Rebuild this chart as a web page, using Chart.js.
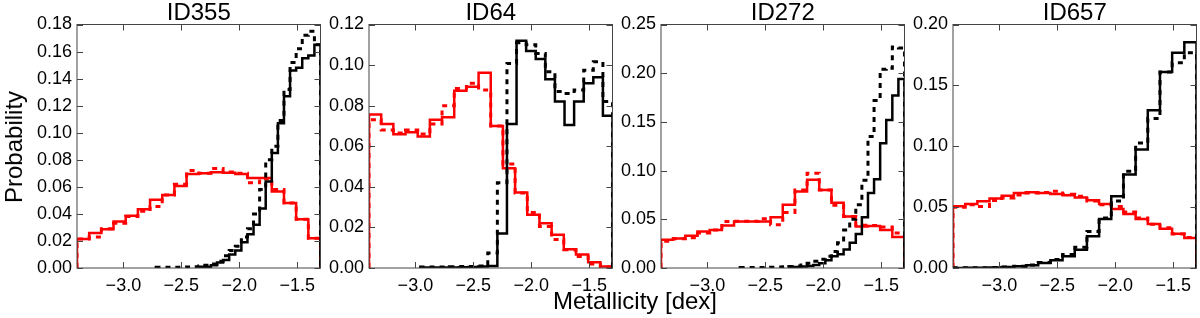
<!DOCTYPE html>
<html>
<head>
<meta charset="utf-8">
<script src="https://cdn.jsdelivr.net/npm/chart.js@4.4.1/dist/chart.umd.min.js"></script>
<style>
  body { margin: 0; background: #fff; }
  #wrap { position: relative; width: 1200px; height: 318px; overflow: hidden; font-family: "Liberation Sans", Arial, sans-serif; }
  canvas { position: absolute; top: 0; }
  .lab { position: absolute; font-size: 24px; line-height: 24px; color: #000; white-space: nowrap; }
</style>
</head>
<body>
<div id="wrap">
  <canvas id="c0" width="308" height="318" style="left:17px"></canvas>
  <canvas id="c1" width="308" height="318" style="left:309px"></canvas>
  <canvas id="c2" width="308" height="318" style="left:601px"></canvas>
  <canvas id="c3" width="308" height="318" style="left:893px"></canvas>
  <div class="lab" id="ylab" style="left:14px;top:147px;transform:translate(-50%,-50%) rotate(-90deg)">Probability</div>
  <div class="lab" id="xlab" style="left:635px;top:289px;transform:translateX(-50%)">Metallicity [dex]</div>
</div>
<script>
const titles = ['ID355', 'ID64', 'ID272', 'ID657'];
const xMin = -3.4, xMax = -1.3;
const xTicks = [-3.0, -2.5, -2.0, -1.5];
const yTicks = [
  [0, 0.02, 0.04, 0.06, 0.08, 0.10, 0.12, 0.14, 0.16, 0.18],
  [0, 0.02, 0.04, 0.06, 0.08, 0.10, 0.12],
  [0, 0.05, 0.10, 0.15, 0.20, 0.25],
  [0, 0.05, 0.10, 0.15, 0.20]
];

// red histograms: 20 bins over [xMin, xMax]
const redSolid = [
  [0.0214,0.0258,0.0287,0.0344,0.0386,0.0435,0.0504,0.054,0.0607,0.0695,0.0700,0.0707,0.0705,0.0695,0.0665,0.0665,0.0565,0.048,0.036,0.022],
  [0.0757,0.071,0.0659,0.0669,0.0648,0.073,0.0743,0.0874,0.0893,0.0962,0.070,0.0492,0.0372,0.0262,0.0221,0.0164,0.0093,0.0066,0.0028,0.0008],
  [0.029,0.0304,0.033,0.0375,0.039,0.0437,0.0478,0.0478,0.0478,0.052,0.0649,0.0785,0.0905,0.080,0.067,0.053,0.0427,0.043,0.039,0.0317],
  [0.0507,0.0526,0.0548,0.057,0.0594,0.0616,0.0622,0.0616,0.0608,0.0597,0.058,0.0556,0.0526,0.0485,0.0444,0.0403,0.0362,0.0323,0.0282,0.0247]
];
const redDotted = [
  [0.0214,0.023,0.029,0.033,0.038,0.042,0.0455,0.054,0.062,0.072,0.070,0.0735,0.071,0.070,0.063,0.066,0.058,0.048,0.036,0.022],
  [0.073,0.068,0.0665,0.068,0.066,0.071,0.080,0.0885,0.091,0.0877,0.070,0.0513,0.037,0.0274,0.0205,0.014,0.009,0.0057,0.002,0.0005],
  [0.0275,0.030,0.031,0.036,0.039,0.0478,0.048,0.048,0.0505,0.0444,0.057,0.080,0.0973,0.080,0.0645,0.053,0.044,0.0437,0.042,0.036],
  [0.050,0.052,0.0506,0.0555,0.0575,0.060,0.0615,0.062,0.063,0.0605,0.059,0.055,0.052,0.0506,0.046,0.041,0.036,0.033,0.028,0.025]
];

// black histograms: equal bins from their own lower edge up to xMax
const blackSolidLo = [-2.35, -2.955, -2.2975, -3.4];
const blackDottedLo = [-2.7175, -2.955, -2.7175, -3.4];
const blackSolid = [
  [0.001,0.001,0.002,0.004,0.006,0.010,0.013,0.019,0.025,0.032,0.044,0.064,0.085,0.107,0.127,0.146,0.148,0.155,0.157,0.165],
  [0.0002,0.0002,0.0003,0.0003,0.0004,0.0005,0.0007,0.001,0.017,0.071,0.112,0.107,0.103,0.093,0.082,0.0705,0.082,0.091,0.094,0.075],
  [0.0008,0.001,0.0015,0.002,0.003,0.005,0.008,0.012,0.014,0.019,0.026,0.035,0.052,0.077,0.091,0.128,0.152,0.177,0.194],
  [0.0001,0.0002,0.0003,0.0005,0.0008,0.0014,0.0022,0.0041,0.0063,0.0096,0.015,0.026,0.0403,0.0589,0.0767,0.0973,0.1296,0.161,0.1767,0.1855]
];
const blackDotted = [
  [0.0005,0.0005,0.0005,0.0006,0.0007,0.0008,0.001,0.0015,0.002,0.003,0.005,0.009,0.013,0.016,0.023,0.029,0.040,0.058,0.080,0.090,0.109,0.132,0.152,0.162,0.172,0.175,0.165],
  [0.0005,0.0005,0.0005,0.0006,0.0007,0.0008,0.001,0.0074,0.042,0.1008,0.111,0.110,0.1057,0.0967,0.087,0.086,0.0877,0.0975,0.1016,0.082],
  [0.0005,0.0005,0.0005,0.0006,0.0007,0.0008,0.001,0.0012,0.0015,0.002,0.003,0.005,0.007,0.009,0.012,0.017,0.026,0.039,0.05,0.065,0.09,0.135,0.172,0.204,0.205,0.227,0.226],
  [0.0002,0.0002,0.0003,0.0005,0.0008,0.0015,0.0025,0.0045,0.007,0.011,0.017,0.030,0.041,0.055,0.0795,0.1027,0.1227,0.161,0.1685,0.1767]
];

// matplotlib-like step outline: up at the first edge, down at the last
function stepPoints(lo, hi, values){
  const w = (hi - lo) / values.length;
  const pts = [{x: lo, y: 0}];
  values.forEach((v, i) => pts.push({x: lo + i * w, y: v}));
  pts.push({x: hi, y: 0});
  return pts;
}

function histSet(pts, color, dotted, order){
  return {
    data: pts,
    borderColor: color,
    borderWidth: dotted ? 3 : 2.5,
    borderDash: dotted ? [5, 5] : [],
    stepped: 'before',
    pointRadius: 0,
    fill: false,
    order: order
  };
}

const fontTick = {family: '"Liberation Sans", Arial, sans-serif', size: 18};

const framePlugin = {
  id: 'frame',
  afterDatasetsDraw(chart, args, opts){
    const {ctx, chartArea: a, scales} = chart;
    ctx.save();
    ctx.strokeStyle = '#444';
    ctx.lineWidth = 1;
    ctx.beginPath();
    scales.x.ticks.forEach(t => {
      const px = Math.round(scales.x.getPixelForValue(t.value)) + 0.5;
      ctx.moveTo(px, a.bottom); ctx.lineTo(px, a.bottom - 6);
      ctx.moveTo(px, a.top); ctx.lineTo(px, a.top + 6);
    });
    scales.y.ticks.forEach(t => {
      const py = Math.round(scales.y.getPixelForValue(t.value)) + 0.5;
      ctx.moveTo(a.left, py); ctx.lineTo(a.left + 6, py);
      ctx.moveTo(a.right, py); ctx.lineTo(a.right - 6, py);
    });
    ctx.stroke();
    ctx.strokeRect(a.left, a.top, a.right - a.left, a.bottom - a.top);
    ctx.fillStyle = '#000';
    ctx.font = '24px "Liberation Sans", Arial, sans-serif';
    ctx.textAlign = 'center';
    ctx.textBaseline = 'alphabetic';
    ctx.fillText(opts.title, (a.left + a.right) / 2, 20);
    ctx.restore();
  }
};

titles.forEach((title, i) => {
  new Chart(document.getElementById('c' + i), {
    type: 'line',
    data: {
      datasets: [
        histSet(stepPoints(xMin, xMax, redSolid[i]), '#ff0000', false, 4),
        histSet(stepPoints(xMin, xMax, redDotted[i]), '#ff0000', true, 3),
        histSet(stepPoints(blackSolidLo[i], xMax, blackSolid[i]), '#000000', false, 2),
        histSet(stepPoints(blackDottedLo[i], xMax, blackDotted[i]), '#000000', true, 1)
      ]
    },
    options: {
      responsive: false,
      animation: false,
      layout: {padding: {top: 24.5, right: 4.5, left: 0, bottom: 0}},
      plugins: {
        legend: {display: false},
        tooltip: {enabled: false},
        frame: {title: title}
      },
      scales: {
        x: {
          type: 'linear',
          min: xMin,
          max: xMax,
          grid: {display: false, drawTicks: false},
          border: {display: false},
          afterBuildTicks: s => { s.ticks = xTicks.map(v => ({value: v})); },
          afterFit: s => { s.height = 50; },
          ticks: {
            autoSkip: false, maxRotation: 0, padding: 7, color: '#000', font: fontTick,
            callback: v => v.toFixed(1).replace('-', '\u2212')
          }
        },
        y: {
          min: 0,
          max: yTicks[i][yTicks[i].length - 1],
          grid: {display: false, drawTicks: false},
          border: {display: false},
          afterBuildTicks: s => { s.ticks = yTicks[i].map(v => ({value: v})); },
          afterFit: s => { s.width = 60; },
          ticks: {
            autoSkip: false, padding: 5, color: '#000', font: fontTick,
            callback: v => v.toFixed(2)
          }
        }
      }
    },
    plugins: [framePlugin]
  });
});
</script>
</body>
</html>
